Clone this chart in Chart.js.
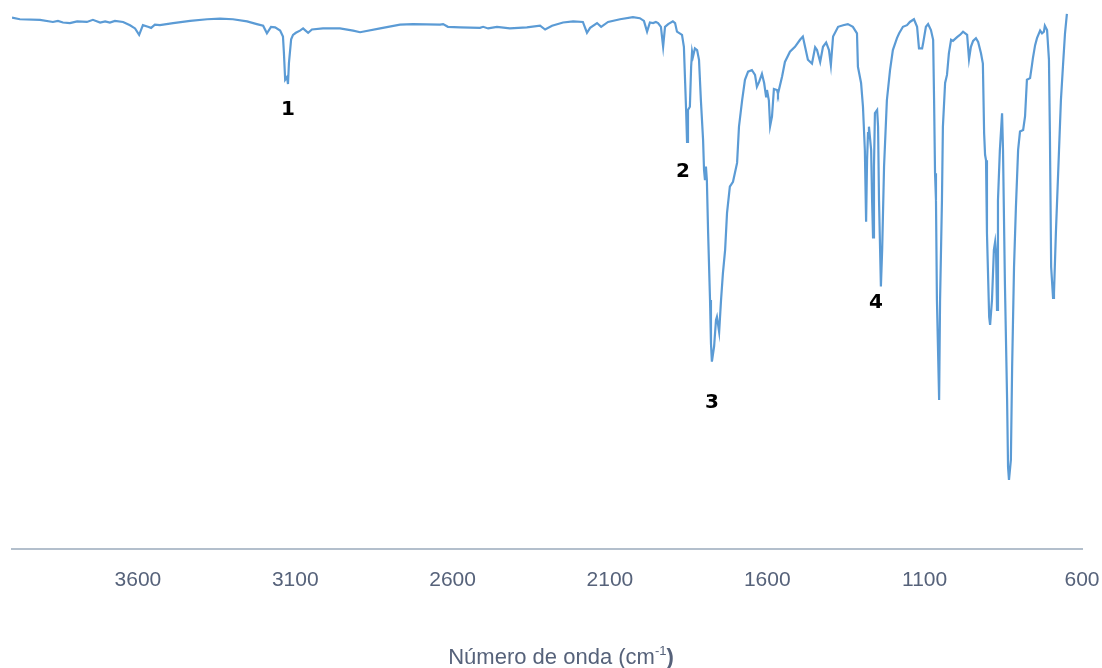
<!DOCTYPE html>
<html>
<head>
<meta charset="utf-8">
<script src="https://cdn.jsdelivr.net/npm/chart.js@4/dist/chart.umd.min.js"></script>
<style>
  html, body { margin: 0; padding: 0; background: #ffffff; }
  canvas { display: block; }
</style>
</head>
<body>
<canvas id="ir" width="1102" height="668"></canvas>
<script>
// FTIR spectrum: wavenumber (cm-1) against transmittance (%)
const wavenumbers = [
  4000,3975,3911,3870,3854,3838,3816,3793,3762,3743,3720,3704,3689,3673,3647,3625,3609,3596,3584,3568,
  3558,3546,3530,3488,3434,3380,3339,3298,3253,3222,3202,3190,3177,3164,3148,3139,3136,3132,3126,3123,
  3120,3113,3107,3098,3085,3075,3069,3059,3047,3012,2958,2916,2894,
  2830,2767,2726,2640,2630,2615,2576,2513,2503,2487,2459,2418,2364,2322,2306,2284,2249,2217,2186,2173,
  2163,2141,2128,2106,2068,2027,2005,1992,1982,1973,1963,1954,1947,1938,1931,1925,1915,1900,1893,1887,
  1871,1865,1861,1858,1855,1852,1846,1842,1839,1836,1830,1823,1817,1811,1804,1801,1798,1795,1792,1788,
  1782,1779,1776,1769,1763,1760,1753,1747,1741,1734,1728,1719,1709,1696,1690,1680,1671,1661,1649,1639,
  1633,1626,1617,1610,1604,1601,1595,1591,1585,1579,1569,1566,1553,1544,1528,1512,1496,1487,1480,1471,
  1458,1448,1442,1432,1423,1413,1404,1398,1391,1375,1359,1344,1328,1315,1312,1302,1296,1290,1286,1283,
  1280,1277,1270,1267,1264,1261,1258,1251,1248,1245,1239,1235,1229,1220,1210,1201,1188,1181,1169,1156,
  1147,1134,1124,1118,1108,1105,1096,1089,1080,1073,1070,1067,1064,1061,1054,1051,1045,1042,1035,1029,
  1023,1016,1010,997,988,978,965,959,953,946,937,930,921,915,911,908,905,902,895,892,
  886,880,876,873,870,867,861,854,851,845,838,835,832,826,822,816,810,803,797,787,
  781,775,765,759,756,749,743,733,727,721,718,711,705,702,698,692,689,683,673,667,
  660,654,648
];

const transmittance = [
  98.4,98.1,98.0,97.6,97.8,97.5,97.4,97.7,97.6,98.0,97.5,97.7,97.5,97.8,97.6,97.0,96.4,95.2,97.0,96.7,
  96.5,97.1,97.0,97.4,97.8,98.1,98.2,98.1,97.7,97.2,96.9,95.5,96.7,96.6,96.0,94.9,91.9,86.9,87.4,86.1,
  90.0,94.4,95.2,95.6,96.0,96.4,96.1,95.6,96.2,96.4,96.4,96.0,95.7,
  96.4,97.1,97.2,97.1,97.2,96.7,96.6,96.5,96.7,96.4,96.7,96.4,96.6,96.9,96.2,96.9,97.5,97.7,97.6,95.6,
  96.5,97.4,96.7,97.6,98.1,98.5,98.3,97.8,95.8,97.5,97.4,97.6,97.4,96.7,93.0,96.7,97.2,97.7,97.4,95.8,
  95.2,93.0,86.3,81.3,75.4,81.3,81.9,89.3,92.1,91.2,92.7,92.4,90.6,83.1,75.7,70.2,68.3,70.8,68.3,58.5,
  46.1,38.1,34.7,37.5,42.4,43.0,40.2,46.1,51.1,55.4,62.2,67.1,68.0,71.5,78.2,83.1,86.9,88.4,88.7,87.8,
  85.6,86.5,88.0,86.3,83.8,85.0,83.1,78.3,80.1,85.2,85.0,84.3,87.5,90.2,92.1,93.0,94.3,94.9,93.0,90.6,
  89.9,92.9,92.4,90.2,93.0,93.8,92.4,89.6,94.9,96.7,97.0,97.2,96.7,95.5,89.3,86.3,81.9,73.9,60.6,72.0,
  77.0,78.2,73.9,64.6,57.7,70.8,80.7,81.3,78.2,64.6,48.6,55.4,70.8,83.1,88.7,92.4,94.6,95.5,96.7,97.0,
  97.6,98.1,96.7,92.7,92.7,93.6,96.7,97.2,96.1,94.3,83.1,69.6,64.6,46.1,27.6,46.1,64.6,78.2,86.3,87.8,
  91.8,94.3,94.1,94.8,95.2,95.8,95.2,90.7,93.0,94.1,94.6,93.9,91.8,89.9,77.0,73.0,72.0,58.5,43.0,41.5,
  46.1,55.4,56.9,54.8,44.3,64.6,73.9,80.7,73.9,49.3,27.6,15.2,12.8,16.5,33.7,52.2,63.3,73.9,77.3,77.6,
  80.1,86.9,87.2,89.6,90.9,93.3,94.6,96.0,95.5,95.8,96.9,96.1,90.6,77.0,52.2,46.5,47.4,58.5,73.9,83.1,
  89.9,95.5,99.1
];

// Axis tick labels (cm-1)
const tickValues = [3600, 3100, 2600, 2100, 1600, 1100, 600];

// Numbered band labels: name, wavenumber, label level (%T)
const bandNames = ['1', '2', '3', '4'];
const bandWavenumbers = [3123, 1868, 1776, 1255];
const bandLabelLevels = [81.3, 69.8, 27.0, 45.6];

const axisTitle = 'Número de onda (cm';
const axisTitleSup = '-1';
const axisTitleEnd = ')';

const points = [];
const n = Math.min(wavenumbers.length, transmittance.length);
for (let i = 0; i < n; i++) points.push({ x: wavenumbers[i], y: transmittance[i] });

const textColor = '#56627a';

const bandLabelPlugin = {
  id: 'bandLabels',
  afterDatasetsDraw(chart) {
    const { ctx, scales: { x, y } } = chart;
    ctx.save();
    ctx.font = 'bold 20px "DejaVu Sans", sans-serif';
    ctx.fillStyle = '#000000';
    ctx.textAlign = 'center';
    ctx.textBaseline = 'middle';
    bandNames.forEach((name, i) => {
      ctx.fillText(name, x.getPixelForValue(bandWavenumbers[i]), y.getPixelForValue(bandLabelLevels[i]));
    });
    ctx.restore();
  }
};

const axisTitlePlugin = {
  id: 'axisTitleSup',
  afterDraw(chart) {
    const ctx = chart.ctx;
    const mainFont = '22px "Liberation Sans", Arial, sans-serif';
    const supFont = '13px "Liberation Sans", Arial, sans-serif';
    const endFont = 'bold 22px "Liberation Sans", Arial, sans-serif';
    ctx.save();
    ctx.fillStyle = textColor;
    ctx.textBaseline = 'alphabetic';
    ctx.textAlign = 'left';
    ctx.font = mainFont;
    const w1 = ctx.measureText(axisTitle).width;
    ctx.font = supFont;
    const w2 = ctx.measureText(axisTitleSup).width;
    ctx.font = endFont;
    const w3 = ctx.measureText(axisTitleEnd).width;
    const total = w1 + w2 + w3;
    const cx = 561;
    const baseY = 664;
    let xPos = cx - total / 2;
    ctx.font = mainFont;
    ctx.fillText(axisTitle, xPos, baseY);
    xPos += w1;
    ctx.font = supFont;
    ctx.fillText(axisTitleSup, xPos, baseY - 9);
    xPos += w2;
    ctx.font = endFont;
    ctx.fillText(axisTitleEnd, xPos, baseY);
    ctx.restore();
  }
};

new Chart(document.getElementById('ir'), {
  type: 'line',
  data: {
    datasets: [{
      data: points,
      borderColor: '#5b9bd5',
      borderWidth: 2.2,
      pointRadius: 0,
      tension: 0,
      fill: false
    }]
  },
  options: {
    responsive: false,
    animation: false,
    devicePixelRatio: 1,
    parsing: false,
    layout: { padding: { left: 12, right: 20, top: 9, bottom: 0 } },
    plugins: { legend: { display: false }, tooltip: { enabled: false } },
    scales: {
      x: {
        type: 'linear',
        reverse: true,
        min: 600,
        max: 4000,
        afterBuildTicks(scale) {
          scale.ticks = tickValues.map(v => ({ value: v }));
        },
        afterFit(scale) {
          scale.height = 119;
          scale.paddingLeft = 0;
          scale.paddingRight = 0;
        },
        grid: { display: false, drawTicks: false },
        border: { display: true, color: '#b3bfcc', width: 2 },
        ticks: {
          autoSkip: false,
          maxRotation: 0,
          padding: 19,
          color: textColor,
          font: { family: '"Liberation Sans", Arial, sans-serif', size: 21 },
          callback: v => String(v)
        }
      },
      y: {
        display: false,
        min: 0,
        max: 100
      }
    }
  },
  plugins: [bandLabelPlugin, axisTitlePlugin]
});
</script>
</body>
</html>
